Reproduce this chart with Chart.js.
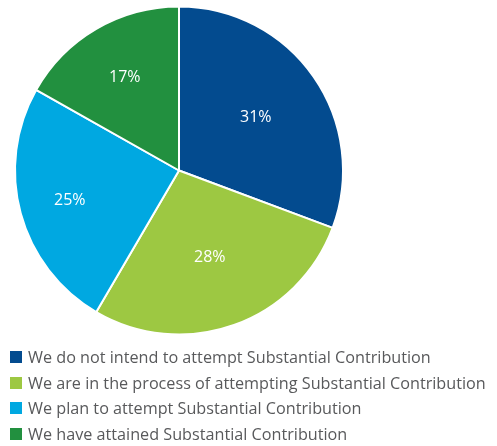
<!DOCTYPE html>
<html>
<head>
<meta charset="utf-8">
<script src="https://cdn.jsdelivr.net/npm/chart.js@4/dist/chart.umd.min.js"></script>
<style>
  html, body { margin: 0; padding: 0; background: #ffffff; }
  #wrap { position: relative; width: 497px; height: 446px; }
  #pie { position: absolute; left: 0; top: 0; }
  #legend { position: absolute; left: 10px; top: 348px; margin: 0; padding: 0; list-style: none;
            font-family: "Open Sans", "Noto Sans", sans-serif; font-size: 16.2px; color: #58595B; }
  #legend li { position: relative; height: 25.5px; line-height: 18px; padding-left: 18px; white-space: nowrap; }
  #legend li span { position: absolute; left: 0; top: 3px; width: 12px; height: 12px; }
</style>
</head>
<body>
<div id="wrap">
  <canvas id="pie" width="497" height="446"></canvas>
  <ul id="legend"></ul>
</div>
<script>
// Survey responses on Substantial Contribution (percent of respondents)
const categories = [
  'We do not intend to attempt Substantial Contribution',
  'We are in the process of attempting Substantial Contribution',
  'We plan to attempt Substantial Contribution',
  'We have attained Substantial Contribution'
];
const shares = [31, 28, 25, 17];
const sliceColors = ['#034B8F', '#9DC842', '#00A8E1', '#22903F'];

// Percentage labels placed inside each slice, at a per-slice fraction of the radius
const sliceLabels = {
  id: 'sliceLabels',
  afterDatasetsDraw(chart, args, opts) {
    const { ctx } = chart;
    const meta = chart.getDatasetMeta(0);
    const depth = opts.depth || [];
    ctx.save();
    ctx.fillStyle = '#ffffff';
    ctx.font = '16px "Open Sans", "Noto Sans", sans-serif';
    ctx.textAlign = 'center';
    ctx.textBaseline = 'middle';
    meta.data.forEach((arc, i) => {
      const { x, y, startAngle, endAngle, outerRadius } = arc.getProps(['x', 'y', 'startAngle', 'endAngle', 'outerRadius'], true);
      const mid = (startAngle + endAngle) / 2;
      const r = outerRadius * (depth[i] || 0.6);
      ctx.fillText(shares[i] + '%', x + Math.cos(mid) * r, y + Math.sin(mid) * r);
    });
    ctx.restore();
  }
};

const chart = new Chart(document.getElementById('pie'), {
  type: 'pie',
  data: {
    labels: categories,
    datasets: [{
      data: shares,
      backgroundColor: sliceColors,
      borderColor: '#ffffff',
      borderWidth: 2
    }]
  },
  options: {
    responsive: false,
    animation: false,
    layout: { padding: { top: 5, left: 14, right: 153, bottom: 110 } },
    plugins: {
      tooltip: { enabled: false },
      legend: { display: false },
      sliceLabels: { depth: [0.57, 0.56, 0.69, 0.655] }
    }
  },
  plugins: [sliceLabels]
});

// Legend list built from the chart's own labels and colours
const legendEl = document.getElementById('legend');
chart.data.labels.forEach((label, i) => {
  const li = document.createElement('li');
  const sw = document.createElement('span');
  sw.style.background = chart.data.datasets[0].backgroundColor[i];
  li.appendChild(sw);
  li.appendChild(document.createTextNode(label));
  legendEl.appendChild(li);
});
</script>
</body>
</html>
